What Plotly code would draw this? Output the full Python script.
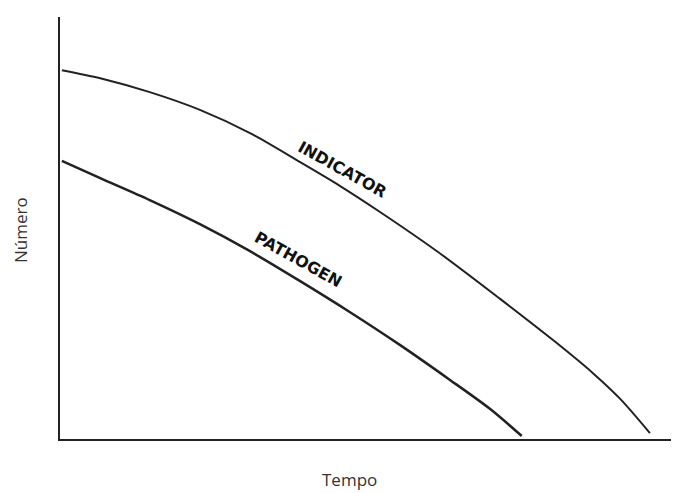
import plotly.graph_objects as go

# curve values (arbitrary units, 0-100 on both axes)
indicator_x = [0.3, 6.5, 14.5, 22.6, 30.7, 38.8, 45.2, 51.7, 60.9, 71.1, 79.6, 86.1, 90.5, 95.3]
indicator_y = [87.4, 85.5, 82.2, 78.0, 72.5, 65.6, 60.0, 53.8, 44.5, 33.2, 23.5, 15.6, 9.5, 1.4]

pathogen_x = [0.3, 6.5, 14.5, 22.6, 30.7, 38.8, 46.8, 54.9, 63.0, 69.5, 74.6]
pathogen_y = [65.9, 61.8, 56.6, 50.9, 44.5, 37.4, 30.1, 22.3, 14.0, 7.1, 0.7]

labels = ["INDICATOR", "PATHOGEN"]
label_x = [45.6, 38.5]
label_y = [63.8, 42.6]

LINE = "#222222"

# the page body has an 8px margin, so the figure is sized to fit the window
W, H = 671, 485
L, T, B = 52, 9, 54

fig = go.Figure()

fig.add_trace(go.Scatter(
    x=indicator_x, y=indicator_y, mode="lines", name="Indicator",
    line=dict(color=LINE, width=2, shape="spline", smoothing=0.8),
))
fig.add_trace(go.Scatter(
    x=pathogen_x, y=pathogen_y, mode="lines", name="Pathogen",
    line=dict(color=LINE, width=2.5, shape="spline", smoothing=0.8),
))

for text, x, y in zip(labels, label_x, label_y):
    fig.add_annotation(
        x=x, y=y, text="<b>" + text + "</b>", showarrow=False, textangle=29,
        font=dict(family="DejaVu Sans", size=16, color="#111111"),
    )

# axis titles as plain annotations so the plot area keeps its place
pw, ph = W - L, H - T - B
fig.add_annotation(
    x=(349 - 60) / pw, y=(439 - 479) / ph, xref="paper", yref="paper",
    xanchor="center", yanchor="middle",
    text="Tempo", showarrow=False, font=dict(size=17),
)
fig.add_annotation(
    x=(21 - 60) / pw, y=(439 - 230) / ph, xref="paper", yref="paper",
    xanchor="center", yanchor="middle",
    text="Número", showarrow=False, textangle=-90, font=dict(size=17),
)

fig.update_layout(
    width=W, height=H,
    plot_bgcolor="white", paper_bgcolor="white",
    showlegend=False,
    margin=dict(l=L, r=0, t=T, b=B),
    font=dict(family="Open Sans, sans-serif", color="#333333"),
    xaxis=dict(
        range=[0, 100], showgrid=False, zeroline=False, showticklabels=False,
        ticks="", showline=True, linecolor="#222222", linewidth=2,
    ),
    yaxis=dict(
        range=[0, 100], showgrid=False, zeroline=False, showticklabels=False,
        ticks="", showline=True, linecolor="#222222", linewidth=2,
    ),
)

fig.write_html("out.html")
